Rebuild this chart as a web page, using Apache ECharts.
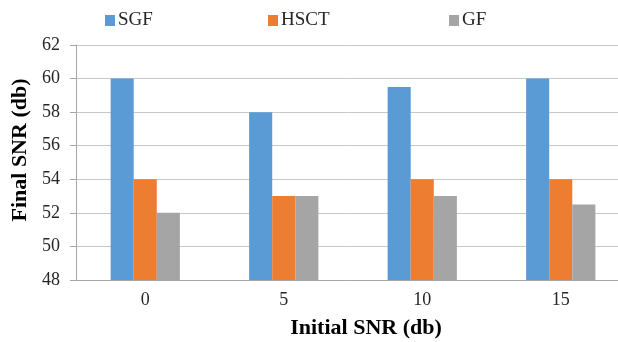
<!DOCTYPE html>
<html><head><meta charset="utf-8">
<script src="https://cdn.jsdelivr.net/npm/echarts@6/dist/echarts.min.js"></script>
<style>html,body{margin:0;padding:0;background:#fff;overflow:hidden}#c{width:618px;height:342px}</style>
</head><body><div id="c"></div>
<script>
const categories = ['0', '5', '10', '15'];
const seriesNames = ['SGF', 'HSCT', 'GF'];
const sgf = [60, 58, 59.5, 60];
const hsct = [54, 53, 54, 54];
const gf = [52, 53, 53, 52.5];
const xTitle = 'Initial SNR (db)';
const yTitle = 'Final SNR (db)';
const colors = ['#5B9BD5', '#ED7D31', '#A5A5A5'];
const font = '"Liberation Serif", "Times New Roman", serif';
const chart = echarts.init(document.getElementById('c'));
const legendLefts = [105, 268, 449];
chart.setOption({
  animation: false,
  textStyle: { fontFamily: font },
  legend: seriesNames.map((n, i) => ({
    data: [n], left: legendLefts[i], top: 11, padding: 0, itemWidth: 10, itemHeight: 11, itemGap: 3,
    icon: 'rect', textStyle: { fontFamily: font, fontSize: 19, color: '#262626', padding: [0, 0, 0, -2] }
  })),
  grid: { left: 76, right: -12, top: 45, bottom: 62, outerBoundsMode: 'none' },
  graphic: [
    { type: 'text', x: 366, y: 328, style: { text: xTitle, font: 'bold 22px ' + font, fill: '#000', textAlign: 'center', textVerticalAlign: 'middle' } },
    { type: 'text', rotation: Math.PI / 2, x: 20, y: 150, style: { text: yTitle, font: 'bold 22px ' + font, fill: '#000', textAlign: 'center', textVerticalAlign: 'middle' } }
  ],
  xAxis: {
    type: 'category', data: categories,
    axisLine: { lineStyle: { color: '#a6a6a6' } },
    axisTick: { show: false },
    axisLabel: { fontFamily: font, fontSize: 18, color: '#262626', margin: 11 }
  },
  yAxis: {
    type: 'value', min: 48, max: 62, interval: 2,
    axisLine: { show: true, lineStyle: { color: '#a6a6a6' } },
    axisTick: { show: true, length: 6, lineStyle: { color: '#a6a6a6' } },
    splitLine: { lineStyle: { color: '#c8c8c8' } },
    axisLabel: { fontFamily: font, fontSize: 18, color: '#262626', margin: 16 }
  },
  series: [sgf, hsct, gf].map((d, i) => ({
    name: seriesNames[i], type: 'bar', data: d, barGap: '0%', barCategoryGap: '50%',
    itemStyle: { color: colors[i] }
  }))
});
</script></body></html>
